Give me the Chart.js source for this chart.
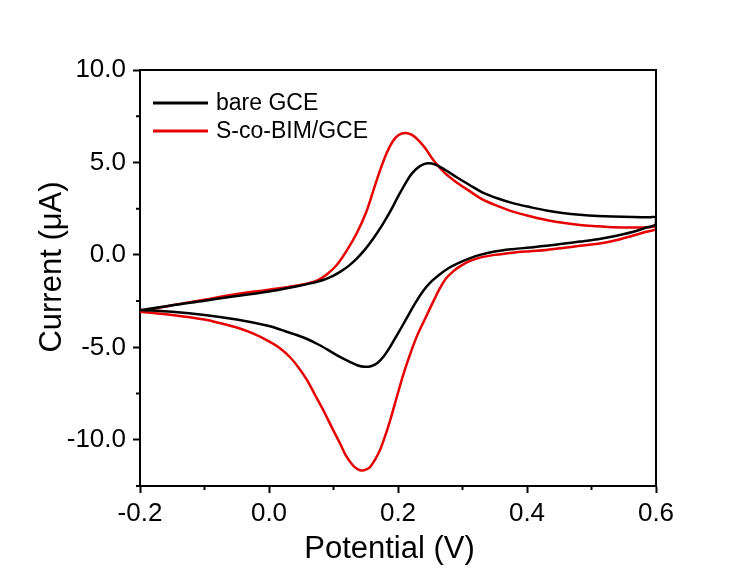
<!DOCTYPE html>
<html>
<head>
<meta charset="utf-8">
<script src="https://cdn.jsdelivr.net/npm/chart.js@4.4.1/dist/chart.umd.min.js"></script>
<style>
html,body{margin:0;padding:0;background:#fff;}
#wrap{width:749px;height:570px;}
</style>
</head>
<body>
<div id="wrap"><canvas id="c" width="749" height="570"></canvas></div>
<script>
// ---- data ----
const seriesLabels = ["bare GCE", "S-co-BIM/GCE"];
const seriesColors = ["#000000", "#e60000"];

// bare GCE: forward scan (-0.2 -> 0.6) then reverse scan (0.6 -> -0.2)
const bareE = [-0.20,-0.15,-0.10,-0.05,0.00,0.04,0.07,0.084,0.10,0.112,0.124,0.136,0.149,0.162,0.175,0.188,0.20,0.212,0.222,0.234,0.246,0.258,0.272,0.291,0.311,0.33,0.355,0.378,0.405,0.43,0.455,0.482,0.51,0.533,0.565,0.59,0.60,
               0.60,0.585,0.565,0.533,0.51,0.482,0.455,0.43,0.405,0.378,0.35,0.327,0.31,0.291,0.278,0.265,0.25,0.239,0.226,0.213,0.20,0.188,0.178,0.168,0.158,0.148,0.138,0.126,0.11,0.092,0.075,0.059,0.04,0.02,0.00,-0.05,-0.10,-0.15,-0.20];
const bareI = [-3.00,-2.72,-2.48,-2.22,-1.98,-1.72,-1.50,-1.36,-1.12,-0.88,-0.58,-0.20,0.30,0.90,1.58,2.35,3.15,3.90,4.42,4.80,4.95,4.88,4.62,4.20,3.78,3.40,3.05,2.80,2.58,2.40,2.27,2.17,2.10,2.07,2.05,2.03,2.03,
               1.65,1.48,1.25,0.99,0.85,0.72,0.60,0.49,0.40,0.31,0.18,0.00,-0.20,-0.48,-0.72,-1.05,-1.50,-1.95,-2.65,-3.45,-4.25,-4.96,-5.48,-5.85,-6.02,-6.05,-5.98,-5.80,-5.52,-5.15,-4.82,-4.55,-4.30,-4.07,-3.85,-3.50,-3.25,-3.08,-2.98];

// S-co-BIM/GCE: forward scan then reverse scan
const sbimE = [-0.20,-0.15,-0.10,-0.05,0.00,0.04,0.06,0.075,0.09,0.105,0.12,0.136,0.15,0.162,0.173,0.183,0.192,0.201,0.211,0.221,0.231,0.242,0.255,0.272,0.291,0.311,0.33,0.355,0.378,0.405,0.43,0.455,0.482,0.51,0.533,0.565,0.59,0.60,
               0.60,0.585,0.565,0.533,0.51,0.482,0.455,0.43,0.405,0.378,0.35,0.327,0.31,0.296,0.286,0.275,0.265,0.255,0.242,0.229,0.218,0.208,0.198,0.188,0.18,0.172,0.164,0.157,0.15,0.144,0.138,0.131,0.12,0.11,0.097,0.084,0.071,0.059,0.046,0.033,0.017,0.00,-0.025,-0.05,-0.075,-0.10,-0.15,-0.20];
const sbimI = [-3.05,-2.72,-2.42,-2.12,-1.88,-1.68,-1.55,-1.38,-1.05,-0.55,0.20,1.17,2.25,3.50,4.65,5.55,6.15,6.48,6.59,6.50,6.22,5.78,5.12,4.45,3.92,3.45,3.02,2.64,2.34,2.09,1.89,1.74,1.62,1.55,1.50,1.48,1.50,1.52,
               1.38,1.25,1.05,0.75,0.60,0.49,0.37,0.27,0.20,0.12,0.00,-0.15,-0.35,-0.62,-0.88,-1.25,-1.80,-2.50,-3.45,-4.42,-5.45,-6.50,-7.70,-8.93,-9.80,-10.56,-11.10,-11.46,-11.62,-11.66,-11.60,-11.42,-10.90,-10.19,-9.30,-8.39,-7.55,-6.77,-6.10,-5.55,-5.05,-4.68,-4.25,-3.93,-3.70,-3.50,-3.25,-3.07];

const xMajorTicks = [-0.2, 0.0, 0.2, 0.4, 0.6];
const xMinorTicks = [-0.1, 0.1, 0.3, 0.5];
const yMajorTicks = [-10, -5, 0, 5, 10];
const yMinorTicks = [-12.5, -7.5, -2.5, 2.5, 7.5];
const xRange = [-0.2, 0.6];
const yRange = [-12.5, 10];
const xTitle = "Potential (V)";
const yTitle = "Current (\u03bcA)";

// ---- build ----
const zip = (xs, ys) => xs.map((x, i) => ({x: x, y: ys[i]}));
const FONT = "'Liberation Sans', Arial, sans-serif";

const frameAndMinor = {
  id: 'frameAndMinor',
  afterDraw(chart) {
    const ctx = chart.ctx, a = chart.chartArea;
    const xs = chart.scales.x, ys = chart.scales.y;
    ctx.save();
    ctx.strokeStyle = '#000';
    ctx.lineWidth = 2;
    ctx.beginPath();
    ctx.moveTo(a.left - 1, a.top); ctx.lineTo(a.right + 1, a.top);
    ctx.moveTo(a.right, a.top); ctx.lineTo(a.right, a.bottom);
    ctx.stroke();
    ctx.beginPath();
    xMinorTicks.forEach(v => { const p = xs.getPixelForValue(v); ctx.moveTo(p, a.bottom); ctx.lineTo(p, a.bottom + 4); });
    yMinorTicks.forEach(v => { const p = ys.getPixelForValue(v); ctx.moveTo(a.left, p); ctx.lineTo(a.left - 4, p); });
    ctx.stroke();
    // axis titles
    ctx.fillStyle = '#000';
    ctx.font = '31px ' + FONT;
    ctx.textAlign = 'center';
    ctx.textBaseline = 'middle';
    ctx.fillText(xTitle, 389.5, 549);
    ctx.save();
    ctx.translate(52.5, 267);
    ctx.rotate(-Math.PI / 2);
    ctx.fillText(yTitle, 0, 0);
    ctx.restore();
    // legend
    const lx0 = 153, lx1 = 208, tx = 216, ly = [103, 131];
    ctx.font = '23px ' + FONT;
    ctx.textAlign = 'left';
    chart.data.datasets.forEach((ds, i) => {
      ctx.strokeStyle = ds.borderColor;
      ctx.lineWidth = 3;
      ctx.beginPath(); ctx.moveTo(lx0, ly[i]); ctx.lineTo(lx1, ly[i]); ctx.stroke();
      ctx.fillStyle = '#000';
      ctx.fillText(ds.label, tx, ly[i] + 1);
    });
    ctx.restore();
  }
};

new Chart(document.getElementById('c'), {
  type: 'scatter',
  data: {
    datasets: [
      {label: seriesLabels[0], data: zip(bareE, bareI), borderColor: seriesColors[0], backgroundColor: seriesColors[0], showLine: true, pointRadius: 0, borderWidth: 2.5, tension: 0.35},
      {label: seriesLabels[1], data: zip(sbimE, sbimI), borderColor: seriesColors[1], backgroundColor: seriesColors[1], showLine: true, pointRadius: 0, borderWidth: 2.5, tension: 0.35}
    ]
  },
  options: {
    responsive: false,
    animation: false,
    devicePixelRatio: 1,
    layout: {padding: {top: 70, right: 93, left: 0, bottom: 0}},
    plugins: {legend: {display: false}, tooltip: {enabled: false}},
    scales: {
      x: {
        type: 'linear', min: xRange[0], max: xRange[1],
        afterBuildTicks: s => { s.ticks = xMajorTicks.map(v => ({value: v})); },
        afterFit: s => { s.height = 84; },
        border: {display: true, width: 2, color: '#000'},
        grid: {drawOnChartArea: false, drawTicks: true, tickLength: 7, tickWidth: 2, color: '#000'},
        ticks: {color: '#000', font: {family: FONT, size: 26}, padding: 5, maxRotation: 0,
                callback: v => Number(v).toFixed(1)},
        title: {display: false}
      },
      y: {
        type: 'linear', min: yRange[0], max: yRange[1],
        afterBuildTicks: s => { s.ticks = yMajorTicks.map(v => ({value: v})); },
        afterFit: s => { s.width = 140; },
        border: {display: true, width: 2, color: '#000'},
        grid: {drawOnChartArea: false, drawTicks: true, tickLength: 7, tickWidth: 2, color: '#000'},
        ticks: {color: '#000', font: {family: FONT, size: 26}, padding: 7,
                callback: v => Number(v).toFixed(1)},
        title: {display: false}
      }
    }
  },
  plugins: [frameAndMinor]
});
</script>
</body>
</html>
